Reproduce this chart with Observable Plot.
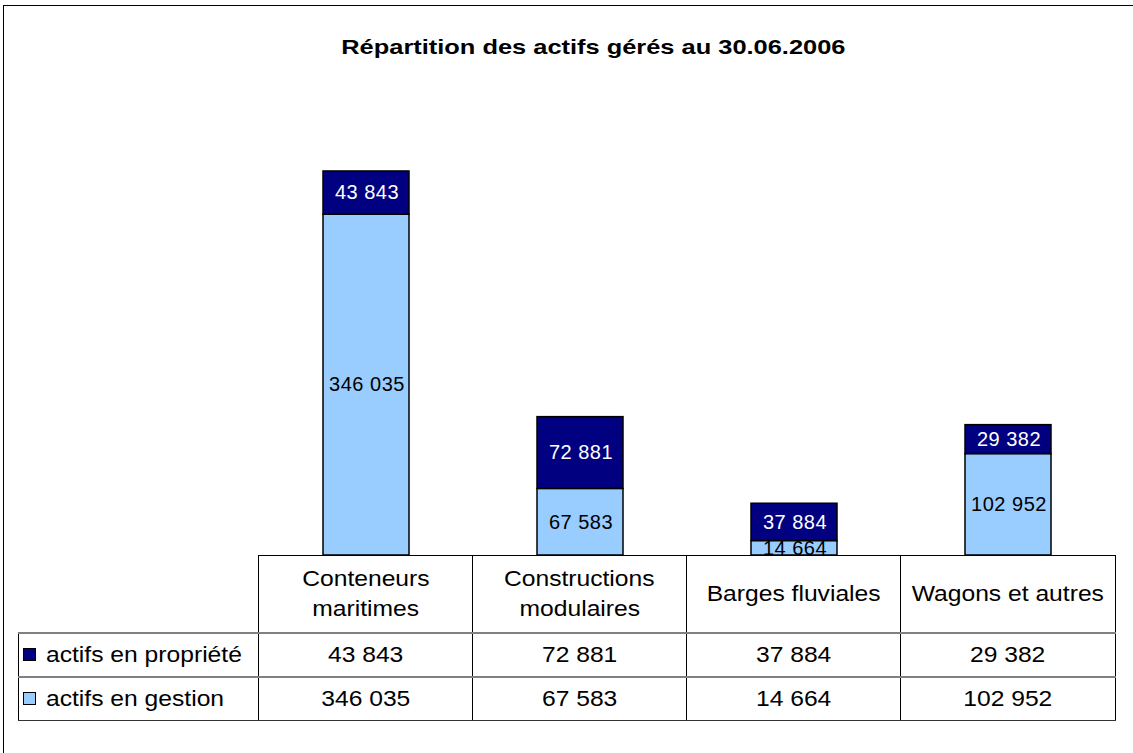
<!DOCTYPE html>
<html>
<head>
<meta charset="utf-8">
<script src="https://cdn.jsdelivr.net/npm/d3@7"></script>
<script src="https://cdn.jsdelivr.net/npm/@observablehq/plot@0.6"></script>
<style>
  html, body { margin: 0; padding: 0; background: #fff; }
  body { width: 1133px; height: 753px; position: relative; overflow: hidden; font-family: "Liberation Sans", Arial, sans-serif; }
  #frame { position: absolute; left: 3px; top: 5px; width: 1140px; height: 800px; border: 1px solid #000; box-sizing: border-box; }
  #title { position: absolute; left: 93px; width: 1000px; top: 35px; text-align: center; font-weight: bold; font-size: 21px; color: #000; }
  #title span { display: inline-block; transform: scaleX(1.21); transform-origin: center; }
  #chart { position: absolute; left: 0; top: 0; }
  #chart text { letter-spacing: 0.5px; }
  #tbl { position: absolute; left: 18px; top: 555px; border-collapse: collapse; table-layout: fixed; font-size: 22px; color: #000; }
  #tbl td { padding: 0; text-align: center; vertical-align: middle; }
  #tbl td .s { display: inline-block; transform: scaleX(1.12); transform-origin: center; }
  #tbl td.leg .s { transform-origin: left center; }
  #tbl tr.head td.cat { height: 76px; line-height: 30px; border-left: 1px solid #000; border-right: 1px solid #000; border-top: 1px solid #000; }
  #tbl tr.val td { height: 42px; border-top: 2px solid #808080; border-left: 1px solid #000; border-right: 1px solid #000; }
  #tbl tr.last td { border-bottom: 1px solid #333; }
  #tbl td.leg { text-align: left; padding-left: 4px; }
  .sw { display: inline-block; width: 11px; height: 11px; border: 1px solid #000; margin-right: 10px; vertical-align: 1px; }
</style>
</head>
<body>
<div id="frame"></div>
<div id="title"><span></span></div>
<div id="chart"></div>
<script>
const title = "Répartition des actifs gérés au 30.06.2006";
const categories = ["Conteneurs maritimes", "Constructions modulaires", "Barges fluviales", "Wagons et autres"];
const categoryLines = [["Conteneurs", "maritimes"], ["Constructions", "modulaires"], ["Barges fluviales"], ["Wagons et autres"]];
const seriesNames = ["actifs en gestion", "actifs en propriété"];
const gestion = [346035, 67583, 14664, 102952];
const propriete = [43843, 72881, 37884, 29382];
const seriesColors = ["#99CCFF", "#000080"];
const labelColors = ["#000000", "#FFFFFF"];

const fmt = v => d3.format(",")(v).replace(/,/g, " ");

document.querySelector("#title span").textContent = title;

const data = [];
categories.forEach((c, i) => data.push({cat: c, series: seriesNames[0], value: gestion[i]}));
categories.forEach((c, i) => data.push({cat: c, series: seriesNames[1], value: propriete[i]}));

const chart = Plot.plot({
  width: 1133,
  height: 556,
  marginLeft: 258,
  marginRight: 18,
  marginTop: 161,
  marginBottom: 1,
  style: {fontFamily: "'Liberation Sans', Arial, sans-serif", fontSize: "20px", background: "transparent"},
  x: {domain: categories, paddingInner: 0.6, paddingOuter: 0.3, axis: null},
  y: {domain: [0, 400000], axis: null},
  color: {domain: seriesNames, range: seriesColors},
  marks: [
    Plot.barY(data, {x: "cat", y: "value", fill: "series", stroke: "#000", strokeWidth: 1.5}),
    ...seriesNames.map((s, k) =>
      Plot.text(data, Plot.filter(d => d.series === s, Plot.stackY({
        x: "cat", y: "value", text: d => fmt(d.value), fill: labelColors[k], fontSize: 20, dx: 0.5
      })))
    )
  ]
});
document.getElementById("chart").appendChild(chart);

// data table below the chart
const span = txt => `<span class="s">${txt}</span>`;
const tbl = document.createElement("table");
tbl.id = "tbl";
const cg = document.createElement("colgroup");
[240, 214, 214, 214, 215].forEach(w => { const c = document.createElement("col"); c.style.width = w + "px"; cg.appendChild(c); });
tbl.appendChild(cg);
const head = document.createElement("tr");
head.className = "head";
head.appendChild(document.createElement("td"));
categoryLines.forEach(lines => {
  const td = document.createElement("td");
  td.className = "cat";
  td.innerHTML = lines.map(span).join("<br>");
  head.appendChild(td);
});
tbl.appendChild(head);
const rows = [[seriesNames[1], propriete, seriesColors[1]], [seriesNames[0], gestion, seriesColors[0]]];
rows.forEach(([name, vals, col], r) => {
  const tr = document.createElement("tr");
  tr.className = "val" + (r === rows.length - 1 ? " last" : "");
  const lt = document.createElement("td");
  lt.className = "leg";
  lt.innerHTML = `<span class="sw" style="background:${col}"></span>${span(name)}`;
  tr.appendChild(lt);
  vals.forEach(v => {
    const td = document.createElement("td");
    td.innerHTML = span(fmt(v));
    tr.appendChild(td);
  });
  tbl.appendChild(tr);
});
document.body.appendChild(tbl);
</script>
</body>
</html>
